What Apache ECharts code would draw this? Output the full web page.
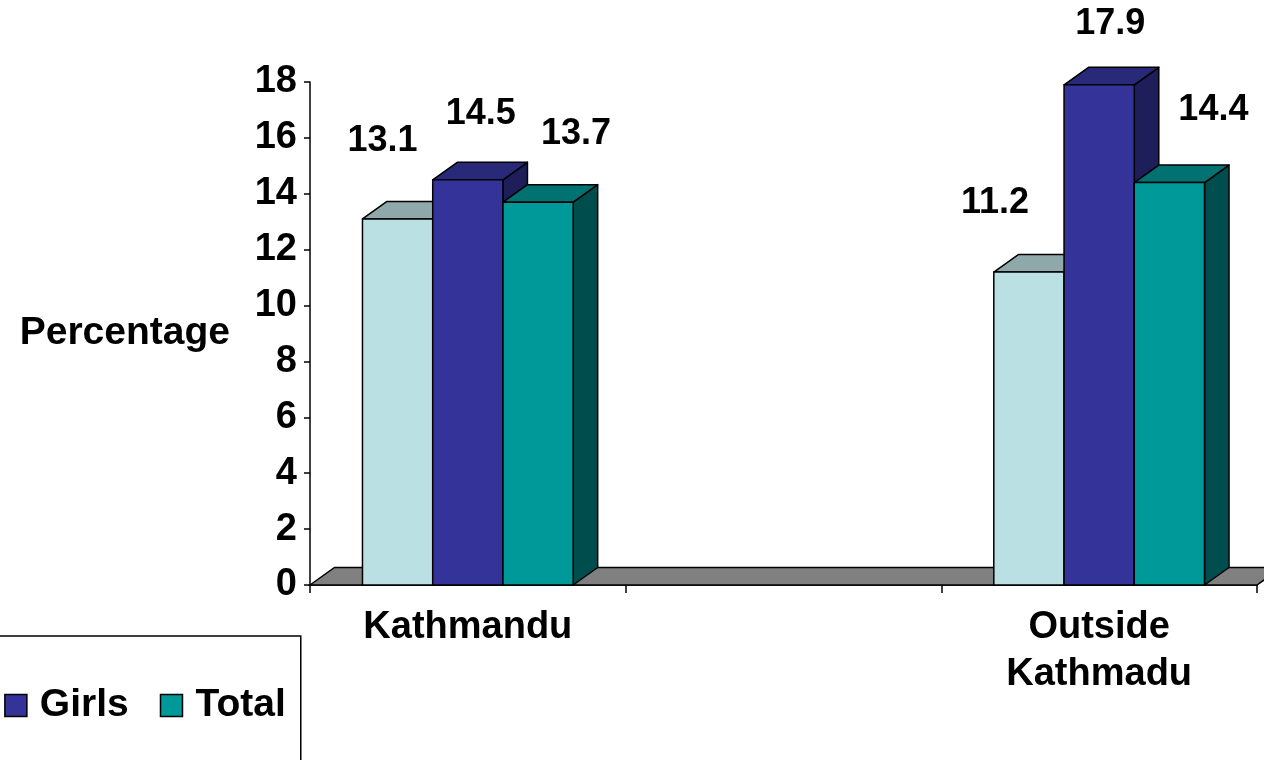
<!DOCTYPE html>
<html>
<head>
<meta charset="utf-8">
<script src="https://cdn.jsdelivr.net/npm/echarts@6/dist/echarts.min.js"></script>
<style>
html,body{margin:0;padding:0;background:#fff;}
#chart{width:1264px;height:760px;}
</style>
</head>
<body>
<div id="chart"></div>
<script>
// ---- data ----
const categories = ['Kathmandu', '', 'Outside\nKathmadu'];
const seriesNames = ['Boys', 'Girls', 'Total'];
const boys  = [13.1, null, 11.2];
const girls = [14.5, null, 17.9];
const total = [13.7, null, 14.4];
const yTicks = [0, 2, 4, 6, 8, 10, 12, 14, 16, 18];

// ---- style ----
const FONT = 'Liberation Sans, Arial, sans-serif';
const BAR_RATIO = 0.2225;
const DX = 24.5, DY = 17.5;
const faces = [
  { front: '#BBE0E3', top: '#8FA9AB', side: '#6E8B8D' },
  { front: '#333399', top: '#29297A', side: '#1E1E5A' },
  { front: '#009999', top: '#007272', side: '#004D4D' }
];
// label offsets (px) per series, per category index, from the front-top centre of the bar
const labelOffsets = [
  { 0: [-15, -78], 2: [-34, -69] },
  { 0: [13, -66], 2: [11, -61] },
  { 0: [38, -68], 2: [44, -73] }
];

function toData(arr) {
  const out = [];
  arr.forEach((v, i) => { if (v !== null) out.push([i, v]); });
  return out;
}

function makeRender(si) {
  return function (params, api) {
    const cat = api.value(0), val = api.value(1);
    const base = api.coord([cat, 0]);
    const top = api.coord([cat, val]);
    const catW = api.size([1, 0])[0];
    const bw = catW * BAR_RATIO;
    const x0 = base[0] + (si - 1.5) * bw;
    const x1 = x0 + bw;
    const yT = top[1], yB = base[1];
    const f = faces[si];
    const stroke = { stroke: '#000', lineWidth: 1.5, lineJoin: 'round' };
    const off = labelOffsets[si][cat] || [0, -65];
    return {
      type: 'group',
      children: [
        { type: 'polygon', shape: { points: [[x1, yT], [x1 + DX, yT - DY], [x1 + DX, yB - DY], [x1, yB]] },
          style: Object.assign({ fill: f.side }, stroke) },
        { type: 'polygon', shape: { points: [[x0, yT], [x0 + DX, yT - DY], [x1 + DX, yT - DY], [x1, yT]] },
          style: Object.assign({ fill: f.top }, stroke) },
        { type: 'rect', shape: { x: x0, y: yT, width: bw, height: yB - yT },
          style: Object.assign({ fill: f.front }, stroke) },
        { type: 'text', x: (x0 + x1) / 2 + off[0], y: yT + off[1],
          style: { text: val.toFixed(1), fill: '#000', font: 'bold 36px ' + FONT,
                   textAlign: 'center', textVerticalAlign: 'middle' } }
      ]
    };
  };
}

const chart = echarts.init(document.getElementById('chart'));
const barSeries = [boys, girls, total].map((arr, si) => ({
  name: seriesNames[si],
  type: 'custom',
  renderItem: makeRender(si),
  data: toData(arr),
  itemStyle: { color: faces[si].front, borderColor: '#000', borderWidth: 1.5 },
  z: 3 + si,
  clip: false
}));

const floorSeries = {
  type: 'custom',
  name: 'floor',
  silent: true,
  z: 1,
  clip: false,
  data: [[0, 0]],
  renderItem: function (params, api) {
    const cs = params.coordSys;
    const yB = cs.y + cs.height;
    const xL = cs.x, xR = cs.x + cs.width;
    return {
      type: 'polygon',
      shape: { points: [[xL, yB], [xL + DX, yB - DY], [xR + DX, yB - DY], [xR, yB]] },
      style: { fill: '#808080', stroke: '#000', lineWidth: 1.5 }
    };
  }
};

chart.setOption({
  animation: false,
  backgroundColor: '#fff',
  grid: { left: 310, right: 7, top: 82, bottom: 175 },
  legend: {
    data: seriesNames,
    left: -178,
    top: 636,
    orient: 'horizontal',
    icon: 'rect',
    itemWidth: 22,
    itemHeight: 22,
    itemGap: 31,
    padding: [50, 15, 47, 20],
    borderColor: '#000',
    borderWidth: 1.5,
    itemStyle: { borderColor: '#000', borderWidth: 1.5 },
    textStyle: { fontFamily: FONT, fontWeight: 'bold', fontSize: 39, color: '#000', padding: [0, 0, 0, 8] }
  },
  xAxis: {
    type: 'category',
    data: categories,
    boundaryGap: true,
    axisLine: { show: true, lineStyle: { color: '#000', width: 1.5 } },
    axisTick: { show: true, length: 8, lineStyle: { color: '#000', width: 1.5 } },
    axisLabel: { color: '#000', fontFamily: FONT, fontWeight: 'bold', fontSize: 38, lineHeight: 47, margin: 19, interval: 0 },
    splitLine: { show: false }
  },
  yAxis: {
    type: 'value',
    min: 0, max: 18, interval: 2,
    name: 'Percentage',
    nameLocation: 'middle',
    nameRotate: 0,
    nameGap: 80,
    nameTextStyle: { color: '#000', fontFamily: FONT, fontWeight: 'bold', fontSize: 39 },
    axisLine: { show: true, lineStyle: { color: '#000', width: 1.5 } },
    axisTick: { show: true, length: 6, lineStyle: { color: '#000', width: 1.5 } },
    axisLabel: { color: '#000', fontFamily: FONT, fontWeight: 'bold', fontSize: 38, margin: 13,
      formatter: v => (yTicks.indexOf(v) >= 0 ? String(v) : '') },
    splitLine: { show: false }
  },
  series: [floorSeries].concat(barSeries)
});
</script>
</body>
</html>
